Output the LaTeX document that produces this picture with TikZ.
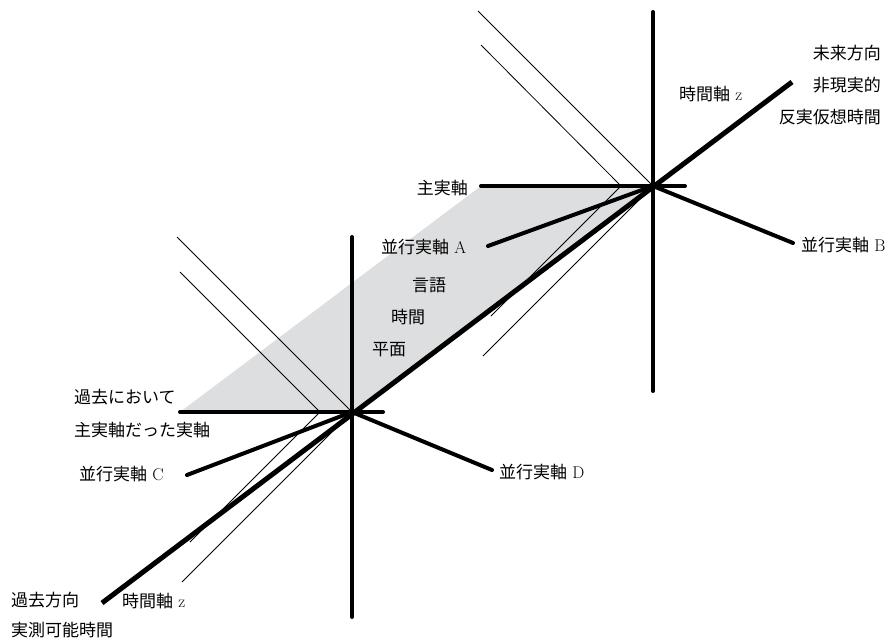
\documentclass[tikz,border=0pt]{standalone}
\usepackage{fontspec}
\usepackage{xcolor}
\newfontfamily\cjk{Noto Sans CJK JP}
\definecolor{planegray}{RGB}{221,222,224}

\begin{document}
\begin{tikzpicture}[x=1pt,y=-1pt,
        axisline/.style={line width=4pt,line cap=round},
        mainline/.style={line width=5pt},
        thinline/.style={line width=0.8pt},
        lab/.style={inner sep=0pt,font=\fontsize{17}{17}\selectfont}]
        \useasboundingbox (0,0) rectangle (895,643);
        % 两个原点
        \coordinate (U) at (653,186);
        \coordinate (L) at (352,412);
        % 言語時間平面
        \fill[planegray] (180,412) -- (481,186) -- (U) -- (L) -- cycle;
        % 细线
        \draw[thinline] (478,11) -- (U) -- (483,356);
        \draw[thinline] (481,45) -- (621,186) -- (491,316);
        \draw[thinline] (177,237) -- (L) -- (182,582);
        \draw[thinline] (180,272) -- (320,412) -- (190,542);
        % 上方的轴
        \draw[axisline] (653,12) -- (653,391);
        \draw[axisline] (481,186) -- (685,186);
        \draw[axisline] (488,246) -- (U) -- (793,243);
        % 下方的轴
        \draw[axisline] (352,237) -- (352,617);
        \draw[axisline] (180,412) -- (383,412);
        \draw[axisline] (187,475) -- (L) -- (492,470);
        % 时间轴 z
        \draw[mainline] (102,603) -- (792,82);
        % 文字
        \node[lab,anchor=east] (fut1) at (881,53) {\cjk 未来方向};
        \node[lab,anchor=east] (fut2) at (881,85) {\cjk 非現実的};
        \node[lab,anchor=east] (fut3) at (881,117) {\cjk 反実仮想時間};
        \node[lab,anchor=west] (zup) at (679,94) {{\cjk 時間軸}\ z};
        \node[lab,anchor=east] (mainU) at (468,188) {\cjk 主実軸};
        \node[lab,anchor=west] (parA) at (381,247) {{\cjk 並行実軸}\ A};
        \node[lab,anchor=west] (parB) at (801,245) {{\cjk 並行実軸}\ B};
        \node[lab,anchor=west] (pl1) at (412,285) {\cjk 言語};
        \node[lab,anchor=west] (pl2) at (391,317) {\cjk 時間};
        \node[lab,anchor=west] (pl3) at (372,350) {\cjk 平面};
        \node[lab,anchor=west] (past1) at (74,397) {\cjk 過去において};
        \node[lab,anchor=west] (past2) at (74,430) {\cjk 主実軸だった実軸};
        \node[lab,anchor=west] (parC) at (79,474) {{\cjk 並行実軸}\ C};
        \node[lab,anchor=west] (parD) at (499,472) {{\cjk 並行実軸}\ D};
        \node[lab,anchor=west] (pdir1) at (11,600) {\cjk 過去方向};
        \node[lab,anchor=west] (pdir2) at (11,630) {\cjk 実測可能時間};
        \node[lab,anchor=west] (zlow) at (122,601) {{\cjk 時間軸}\ z};
\end{tikzpicture}
\end{document}
